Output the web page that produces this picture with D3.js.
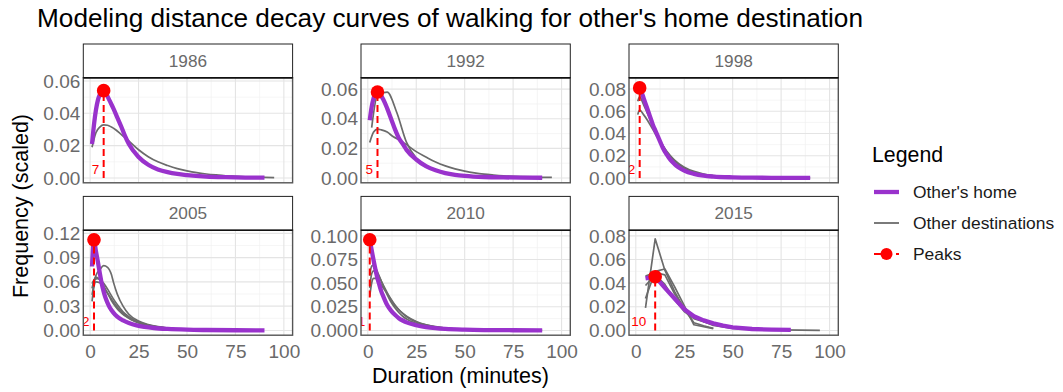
<!DOCTYPE html>
<html>
<head>
<meta charset="utf-8">
<script src="https://cdn.jsdelivr.net/npm/d3@7"></script>
<style>
  body { margin: 0; background: #fff; }
  text { font-family: "Liberation Sans", Arial, Helvetica, sans-serif; }
</style>
</head>
<body>
<svg id="chart" width="1063" height="392"></svg>
<script>
// ---- data: scaled trip-duration frequencies by survey year ----
const years = ["1986", "1992", "1998", "2005", "2010", "2015"];

// walking trips to someone else's home: [duration (min), frequency]
const home1986 = [[1,0.021],[2,0.033],[3,0.042],[4,0.048],[5,0.0515],[6,0.0535],[7,0.054],[8,0.053],[9,0.0505],[10,0.048],[12,0.043],[14,0.0375],[16,0.032],[18,0.026],[20,0.021],[25,0.013],[30,0.0082],[35,0.0053],[40,0.0036],[45,0.0025],[50,0.0018],[60,0.0009],[70,0.0005],[80,0.0003],[90,0.0002]];
const home1992 = [[1,0.039],[2,0.048],[3,0.054],[4,0.057],[5,0.058],[6,0.057],[8,0.053],[10,0.047],[12,0.040],[14,0.033],[16,0.027],[18,0.023],[20,0.019],[25,0.0125],[30,0.008],[35,0.0052],[40,0.0033],[45,0.0022],[50,0.0015],[60,0.0007],[70,0.0004],[80,0.0003],[90,0.0002]];
const home1998 = [[1,0.076],[2,0.081],[3,0.077],[4,0.072],[5,0.067],[6,0.062],[7,0.057],[8,0.052],[9,0.047],[10,0.043],[11,0.039],[12,0.035],[13,0.031],[14,0.027],[16,0.021],[18,0.016],[20,0.0125],[22,0.0097],[25,0.0066],[30,0.0037],[35,0.0021],[40,0.0013],[50,0.0006],[60,0.0003],[75,0.0002],[90,0.0001]];
const home2005 = [[1,0.079],[2,0.112],[3,0.098],[4,0.085],[5,0.071],[6,0.058],[7,0.048],[8,0.040],[9,0.034],[10,0.029],[12,0.022],[14,0.017],[17,0.0124],[20,0.0092],[24,0.0063],[28,0.0045],[33,0.003],[40,0.0018],[50,0.0009],[60,0.0005],[75,0.0002],[90,0.0001]];
const home2010 = [[1,0.096],[2,0.085],[3,0.074],[4,0.064],[5,0.055],[6,0.048],[7,0.041],[8,0.036],[10,0.027],[12,0.021],[14,0.0165],[16,0.013],[18,0.0105],[20,0.0085],[25,0.0055],[30,0.0036],[35,0.0024],[40,0.0016],[50,0.0008],[60,0.0004],[75,0.0002],[90,0.0001]];
const home2015 = [[5,0.044],[10,0.0455],[15,0.036],[20,0.027],[25,0.018],[30,0.012],[35,0.0085],[40,0.006],[45,0.004],[50,0.0025],[60,0.0012],[70,0.0007],[80,0.0004]];

// walking trips to every other destination type
const other1986 = [
  [[1,0.019],[2,0.024],[3,0.028],[5,0.0315],[7,0.0328],[9,0.0326],[11,0.0315],[13,0.030],[16,0.027],[19,0.024],[25,0.0175],[30,0.0132],[35,0.010],[40,0.0077],[45,0.0058],[50,0.0044],[55,0.0033],[60,0.0025],[65,0.0019],[70,0.0014],[75,0.0011],[80,0.0008],[85,0.0006],[90,0.0004],[95,0.0003]]
];
const other1992 = [
  [[1,0.024],[3,0.031],[5,0.033],[7,0.0325],[10,0.031],[13,0.028],[16,0.0258],[19,0.0234],[25,0.0178],[30,0.0142],[35,0.0108],[40,0.0082],[45,0.0062],[50,0.0047],[55,0.0035],[60,0.0026],[65,0.002],[70,0.0015],[80,0.0009],[90,0.0005],[95,0.0004]],
  [[2,0.034],[5,0.056],[10,0.058],[15,0.044],[20,0.024],[25,0.0135],[30,0.0085],[40,0.0035],[50,0.0016],[60,0.0008],[75,0.0004],[90,0.0002]]
];
const other1998 = [
  [[1,0.069],[2,0.073],[4,0.066],[6,0.058],[8,0.050],[10,0.042],[12,0.035],[14,0.029],[16,0.0235],[18,0.019],[20,0.0152],[25,0.0088],[30,0.0052],[35,0.0031],[40,0.0019],[50,0.0008],[60,0.0004],[75,0.0002],[90,0.0001]],
  [[1,0.057],[2,0.061],[4,0.057],[6,0.052],[8,0.046],[10,0.040],[12,0.034],[14,0.029],[16,0.024],[18,0.0198],[20,0.0162],[25,0.0098],[30,0.006],[35,0.0036],[40,0.0022],[50,0.0009],[60,0.0004],[75,0.0002],[85,0.0001]]
];
const other2005 = [
  [[1,0.044],[3,0.068],[5,0.075],[7,0.080],[9,0.078],[11,0.069],[12,0.060],[14,0.045],[17,0.030],[20,0.020],[25,0.0115],[30,0.0072],[35,0.0046],[40,0.003],[50,0.0013],[60,0.0006],[75,0.0002]],
  [[1,0.052],[2,0.062],[3,0.066],[5,0.063],[7,0.055],[9,0.046],[11,0.037],[13,0.030],[15,0.024],[18,0.018],[21,0.0135],[25,0.0092],[30,0.0058],[35,0.0038],[40,0.0025],[50,0.0011],[60,0.0005],[75,0.0002]],
  [[1,0.036],[2,0.054],[3,0.060],[5,0.059],[7,0.053],[9,0.046],[11,0.039],[13,0.032],[15,0.026],[18,0.019],[21,0.014],[25,0.0098],[30,0.0062],[40,0.0026],[50,0.0011],[60,0.0005],[75,0.0002]],
  [[1,0.058],[2,0.062],[4,0.064],[6,0.061],[8,0.055],[10,0.047],[12,0.039],[14,0.032],[17,0.023],[20,0.017],[25,0.0105],[30,0.0066],[40,0.0027],[50,0.0012],[60,0.0005],[75,0.0002]]
];
const other2010 = [
  [[1,0.058],[2,0.068],[3,0.069],[4,0.066],[6,0.057],[8,0.047],[10,0.038],[12,0.030],[14,0.024],[16,0.019],[18,0.015],[20,0.012],[25,0.0075],[30,0.0048],[35,0.0031],[40,0.002],[50,0.0009],[60,0.0004],[75,0.0002],[90,0.0001]],
  [[1,0.045],[2,0.060],[3,0.063],[5,0.060],[7,0.052],[9,0.044],[11,0.036],[13,0.029],[15,0.024],[18,0.018],[21,0.013],[25,0.009],[30,0.0058],[35,0.0037],[40,0.0024],[50,0.001],[60,0.0005],[75,0.0002]],
  [[1,0.036],[2,0.050],[3,0.055],[4,0.055],[6,0.051],[8,0.045],[10,0.039],[12,0.033],[14,0.027],[17,0.020],[20,0.015],[25,0.0095],[30,0.006],[35,0.004],[40,0.0026],[50,0.0011],[60,0.0005],[75,0.0002]]
];
const other2015 = [
  [[5,0.019],[10,0.0775],[15,0.051],[20,0.033],[25,0.018],[30,0.0065],[35,0.004],[40,0.0018]],
  [[5,0.046],[10,0.049],[15,0.047],[20,0.031],[25,0.019],[30,0.011],[40,0.0042],[50,0.0018],[60,0.0009],[75,0.0004],[95,0.0001]],
  [[5,0.038],[10,0.047],[15,0.039],[20,0.026],[25,0.016],[30,0.010],[40,0.0048],[50,0.0022],[60,0.001]],
  [[5,0.027],[10,0.050],[15,0.052],[20,0.037],[25,0.021],[30,0.0048],[40,0.0015]]
];

// duration at which the "other's home" curve peaks
const peakDuration = [7, 5, 2, 2, 1, 10];

// axis settings per panel
const yDataMax = [0.059, 0.0644, 0.0858, 0.118, 0.101, 0.0808];
const yTickStep = [0.02, 0.02, 0.02, 0.03, 0.025, 0.02];
const yTickFormat = [".2f", ".2f", ".2f", ".2f", ".3f", ".2f"];
const xTickValues = [0, 25, 50, 75, 100];
const xDataRange = [1.4, 99.6];

const homeSeries = [home1986, home1992, home1998, home2005, home2010, home2015];
const otherSeries = [other1986, other1992, other1998, other2005, other2010, other2015];

// ---- layout ----
const svg = d3.select("#chart");
const colLeft = [83.3, 361, 629];
const panelW = 209.3;
const stripTop = [44, 196.4];
const stripH = 33.8;
const panelH = 105;

const purple = "#9932CC";
const grey = "#6b6b6b";
const tickGrey = "#6a6a6a";
const tickSize = 19;

const xExpand = (xDataRange[1] - xDataRange[0]) * 0.05;
const xDomain = [xDataRange[0] - xExpand, xDataRange[1] + xExpand];

years.forEach((yr, i) => {
  const col = i % 3, row = Math.floor(i / 3);
  const left = colLeft[col];
  const top = stripTop[row] + stripH;
  const bottom = top + panelH;

  const xs = d3.scaleLinear().domain(xDomain).range([left, left + panelW]);
  const pad = yDataMax[i] * 0.05;
  const ys = d3.scaleLinear().domain([0 - pad, yDataMax[i] + pad]).range([bottom, top]);

  const step = yTickStep[i];
  const yTicks = d3.range(0, yDataMax[i] + pad + 1e-9, step).filter(v => v <= ys.domain()[1]);
  const yMinor = d3.range(step / 2, ys.domain()[1], step);
  const xMinor = xTickValues.slice(0, -1).map(v => v + 12.5).filter(v => v < xDomain[1]);

  const g = svg.append("g");

  // minor + major grid
  g.selectAll(null).data(yMinor).join("line")
    .attr("x1", left).attr("x2", left + panelW)
    .attr("y1", d => ys(d)).attr("y2", d => ys(d))
    .attr("stroke", "#f1f1f1").attr("stroke-width", 0.7);
  g.selectAll(null).data(xMinor).join("line")
    .attr("y1", top).attr("y2", bottom)
    .attr("x1", d => xs(d)).attr("x2", d => xs(d))
    .attr("stroke", "#f1f1f1").attr("stroke-width", 0.7);
  g.selectAll(null).data(yTicks).join("line")
    .attr("x1", left).attr("x2", left + panelW)
    .attr("y1", d => ys(d)).attr("y2", d => ys(d))
    .attr("stroke", "#e4e4e4").attr("stroke-width", 1.1);
  g.selectAll(null).data(xTickValues).join("line")
    .attr("y1", top).attr("y2", bottom)
    .attr("x1", d => xs(d)).attr("x2", d => xs(d))
    .attr("stroke", "#e4e4e4").attr("stroke-width", 1.1);

  // clip region for the panel contents
  const clipId = "clip" + yr;
  svg.append("clipPath").attr("id", clipId)
    .append("rect").attr("x", left).attr("y", top).attr("width", panelW).attr("height", panelH);
  const content = g.append("g").attr("clip-path", `url(#${clipId})`);

  const curve = yr === "2015" ? d3.curveLinear : d3.curveMonotoneX;
  const line = d3.line().x(d => xs(d[0])).y(d => ys(d[1])).curve(curve);

  content.selectAll(null).data(otherSeries[i]).join("path")
    .attr("d", line).attr("fill", "none")
    .attr("stroke", grey).attr("stroke-width", 1.7).attr("stroke-linejoin", "round");

  content.append("path").datum(homeSeries[i])
    .attr("d", line).attr("fill", "none")
    .attr("stroke", purple).attr("stroke-width", 4.3).attr("stroke-linejoin", "round");

  // peak marker
  const px = peakDuration[i];
  const peakPoint = homeSeries[i].find(d => d[0] === px);
  content.append("line")
    .attr("x1", xs(px)).attr("x2", xs(px))
    .attr("y1", ys(0)).attr("y2", ys(peakPoint[1]))
    .attr("stroke", "red").attr("stroke-width", 2).attr("stroke-dasharray", "7,4");
  content.append("circle")
    .attr("cx", xs(px)).attr("cy", ys(peakPoint[1])).attr("r", 6.8).attr("fill", "red");
  const lbl = content.append("text")
    .attr("y", ys(0) - 4.5)
    .attr("font-size", 13.5).attr("fill", "red")
    .text(px);
  const w = lbl.node().getComputedTextLength();
  lbl.attr("x", xs(px) - 1.6 * w);

  // y axis labels
  const yAxis = d3.axisLeft(ys).tickValues(yTicks).tickSize(0).tickPadding(3)
    .tickFormat(d3.format(yTickFormat[i]));
  const ya = svg.append("g").attr("transform", `translate(${left},0)`).call(yAxis);
  ya.select(".domain").remove();
  ya.selectAll("text").attr("font-size", tickSize).attr("fill", tickGrey)
    .style("font-family", "'Liberation Sans', Arial, sans-serif");

  // x axis labels on the bottom row only
  if (row === 1) {
    const xAxis = d3.axisBottom(xs).tickValues(xTickValues).tickSize(0).tickPadding(9);
    const xa = svg.append("g").attr("transform", `translate(0,${bottom})`).call(xAxis);
    xa.select(".domain").remove();
    xa.selectAll("text").attr("font-size", tickSize).attr("fill", tickGrey)
      .style("font-family", "'Liberation Sans', Arial, sans-serif");
  }

  // panel border
  svg.append("rect").attr("x", left).attr("y", top).attr("width", panelW).attr("height", panelH)
    .attr("fill", "none").attr("stroke", "#555").attr("stroke-width", 1.4);

  // strip
  svg.append("rect").attr("x", left).attr("y", stripTop[row]).attr("width", panelW).attr("height", stripH)
    .attr("fill", "#fff").attr("stroke", "#222").attr("stroke-width", 1);
  svg.append("line").attr("x1", left).attr("x2", left + panelW).attr("y1", top).attr("y2", top)
    .attr("stroke", "#111").attr("stroke-width", 1.6);
  svg.append("text")
    .attr("x", left + panelW / 2).attr("y", stripTop[row] + stripH / 2)
    .attr("dy", "0.36em").attr("text-anchor", "middle")
    .attr("font-size", 17.2).attr("fill", tickGrey).text(yr);
});

// titles
svg.append("text").attr("x", 37).attr("y", 27)
  .attr("font-size", 26.2).attr("fill", "#000")
  .text("Modeling distance decay curves of walking for other's home destination");
svg.append("text").attr("x", 460.5).attr("y", 383)
  .attr("text-anchor", "middle").attr("font-size", 21.5).attr("fill", "#000")
  .text("Duration (minutes)");
svg.append("text").attr("transform", "translate(28,206) rotate(-90)")
  .attr("text-anchor", "middle").attr("font-size", 21.5).attr("fill", "#000")
  .text("Frequency (scaled)");

// legend
const legendItems = ["Other's home", "Other destinations", "Peaks"];
const legend = svg.append("g");
legend.append("text").attr("x", 872).attr("y", 162)
  .attr("font-size", 21.3).attr("fill", "#000").text("Legend");
const rowY = [192, 223, 254];
const keyX0 = 874, keyX1 = 899;
legend.append("line").attr("x1", keyX0).attr("x2", keyX1).attr("y1", rowY[0]).attr("y2", rowY[0])
  .attr("stroke", purple).attr("stroke-width", 4.3);
legend.append("line").attr("x1", keyX0).attr("x2", keyX1).attr("y1", rowY[1]).attr("y2", rowY[1])
  .attr("stroke", grey).attr("stroke-width", 1.8);
legend.append("line").attr("x1", keyX0).attr("x2", keyX1).attr("y1", rowY[2]).attr("y2", rowY[2])
  .attr("stroke", "red").attr("stroke-width", 2).attr("stroke-dasharray", "7,4");
legend.append("circle").attr("cx", (keyX0 + keyX1) / 2).attr("cy", rowY[2]).attr("r", 6).attr("fill", "red");
legend.selectAll(null).data(legendItems).join("text")
  .attr("x", 913).attr("y", (d, k) => rowY[k]).attr("dy", "0.36em")
  .attr("font-size", 17.4).attr("fill", "#1a1a1a").text(d => d);
</script>
</body>
</html>
